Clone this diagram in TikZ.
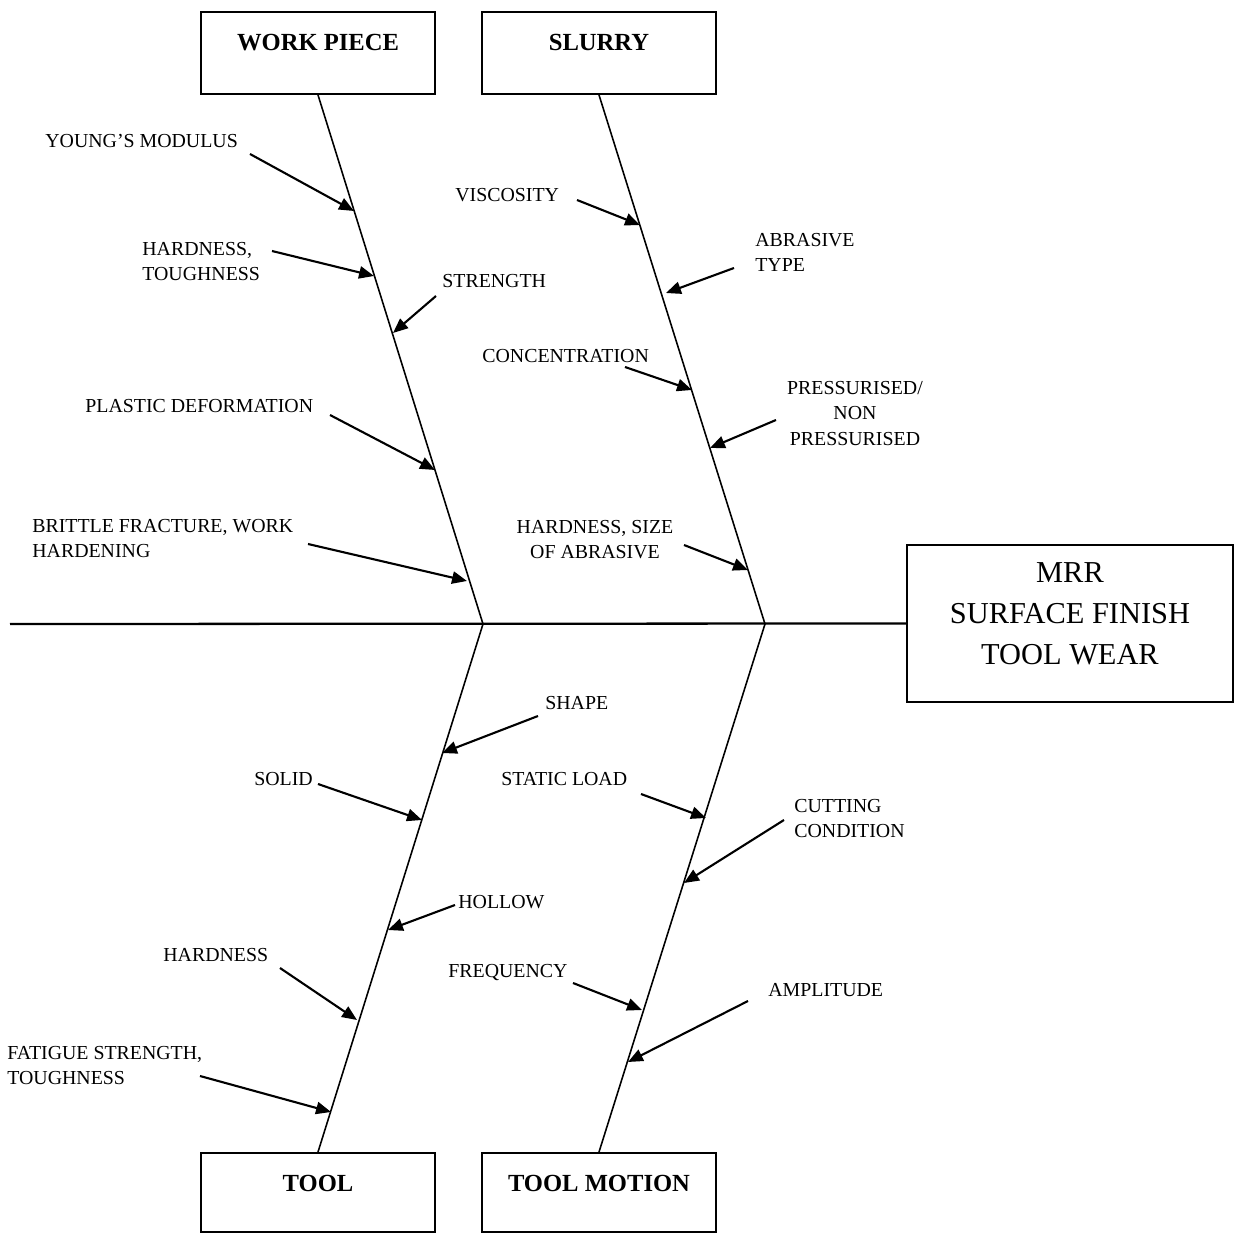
\documentclass[tikz,border=0pt]{standalone}
\usepackage{fontspec}
\setmainfont{Liberation Serif}
\usetikzlibrary{arrows.meta}
\begin{document}
\begin{tikzpicture}[x=0.02cm,y=-0.02cm,
  lbl/.style={inner sep=0pt, anchor=north west, align=left, font=\fontsize{11.3}{14.5}\selectfont},
  lblc/.style={lbl, anchor=north, align=center},
  catbox/.style={draw, line width=1.1pt, inner sep=0pt, minimum width=4.68cm, text height=9.3pt,
    font=\fontsize{14}{16}\selectfont\bfseries},
  effbox/.style={draw, line width=1.1pt, inner sep=0pt, minimum width=6.52cm, minimum height=3.14cm},
  efftext/.style={inner sep=0pt, align=center, font=\fontsize{17.3}{23.3}\selectfont},
  spineline/.style={line width=1.3pt},
  bone/.style={line width=0.9pt},
  cause/.style={line width=1.2pt, -{Triangle[length=8.5pt,width=7pt]}},
]
\useasboundingbox (0,0) rectangle (1242,1236);

% category boxes
\node[catbox, minimum height=1.64cm, text depth=12.5pt] (wp) at (318,53) {WORK PIECE};
\node[catbox, minimum height=1.64cm, text depth=12.5pt] (sl) at (599,53) {SLURRY};
\node[catbox, minimum height=1.58cm, text depth=10.8pt] (tl) at (318,1192.5) {TOOL};
\node[catbox, minimum height=1.58cm, text depth=10.8pt] (tm) at (599,1192.5) {TOOL MOTION};

% effect box
\node[effbox] (eff) at (1070,623.5) {};
\node[efftext] (efft) at (1070,614) {MRR\\SURFACE FINISH\\TOOL WEAR};

% spine and bones
\coordinate (spine) at (10,624);
\coordinate (j1) at (483,624);
\coordinate (j2) at (765,624);
\draw[spineline] (spine) -- (eff.west);
\draw[bone] (wp.south) -- (j1);
\draw[bone] (sl.south) -- (j2);
\draw[bone] (tl.north) -- (j1);
\draw[bone] (tm.north) -- (j2);

% labels
\node[lbl] (ym) at (45,134) {YOUNG’S MODULUS};
\node[lbl] (ht) at (142,242) {HARDNESS,\\TOUGHNESS};
\node[lbl] (st) at (442,274) {STRENGTH};
\node[lbl] (pd) at (85,399) {PLASTIC DEFORMATION};
\node[lbl] (bf) at (32,519) {BRITTLE FRACTURE, WORK\\HARDENING};
\node[lbl] (vi) at (455,188) {VISCOSITY};
\node[lbl] (ab) at (755,233) {ABRASIVE\\TYPE};
\node[lbl] (co) at (482,349) {CONCENTRATION};
\node[lblc] (pr) at (855,381) {PRESSURISED/\\NON\\PRESSURISED};
\node[lblc] (hs) at (595,520) {HARDNESS, SIZE\\OF ABRASIVE};
\node[lbl] (sh) at (545,696) {SHAPE};
\node[lbl] (so) at (254,772) {SOLID};
\node[lbl] (ho) at (458,895) {HOLLOW};
\node[lbl] (hd) at (163,948) {HARDNESS};
\node[lbl] (fs) at (7,1046) {FATIGUE STRENGTH,\\TOUGHNESS};
\node[lbl] (stl) at (501,772) {STATIC LOAD};
\node[lbl] (cc) at (794,799) {CUTTING\\CONDITION};
\node[lbl] (fr) at (448,964) {FREQUENCY};
\node[lbl] (am) at (768,983) {AMPLITUDE};

% cause arrows: tails and tips
\coordinate (t1) at (250,154);  \coordinate (h1) at (354,211);
\coordinate (t2) at (272,251);  \coordinate (h2) at (374,276);
\coordinate (t3) at (436,296);  \coordinate (h3) at (393,333);
\coordinate (t4) at (330,415);  \coordinate (h4) at (435,470);
\coordinate (t5) at (308,544);  \coordinate (h5) at (467,581);
\coordinate (t6) at (577,200);  \coordinate (h6) at (640,225);
\coordinate (t7) at (734,268);  \coordinate (h7) at (666,293);
\coordinate (t8) at (625,367);  \coordinate (h8) at (692,390);
\coordinate (t9) at (776,420);  \coordinate (h9) at (710,448);
\coordinate (t10) at (684,545); \coordinate (h10) at (748,570);
\coordinate (t11) at (538,716); \coordinate (h11) at (442,753);
\coordinate (t12) at (318,784); \coordinate (h12) at (422,820);
\coordinate (t13) at (455,905); \coordinate (h13) at (388,930);
\coordinate (t14) at (280,968); \coordinate (h14) at (357,1020);
\coordinate (t15) at (200,1076); \coordinate (h15) at (331,1112);
\coordinate (t16) at (641,794); \coordinate (h16) at (706,818);
\coordinate (t17) at (784,820); \coordinate (h17) at (684,883);
\coordinate (t18) at (573,983); \coordinate (h18) at (642,1010);
\coordinate (t19) at (748,1001); \coordinate (h19) at (628,1062);

\foreach \i in {1,...,19} {\draw[cause] (t\i) -- (h\i);}
\end{tikzpicture}
\end{document}
